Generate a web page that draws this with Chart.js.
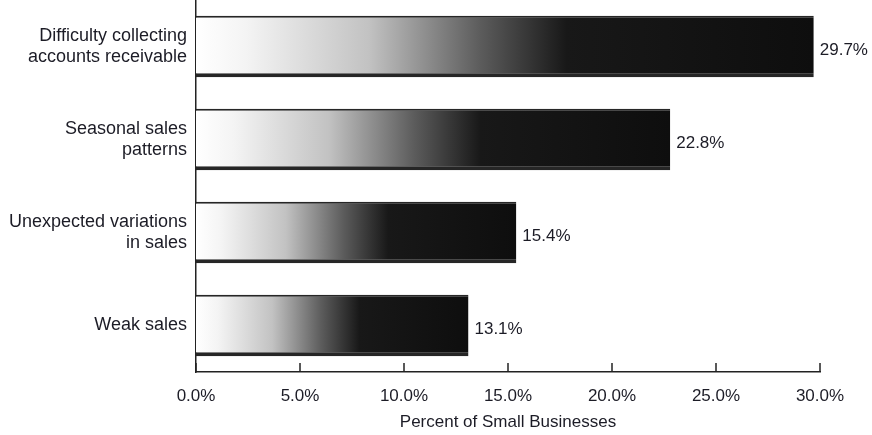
<!DOCTYPE html>
<html>
<head>
<meta charset="utf-8">
<script src="https://cdn.jsdelivr.net/npm/chart.js@4.4.1/dist/chart.umd.min.js"></script>
<style>
  html, body { margin: 0; padding: 0; background: #fff; }
  #wrap { width: 872px; height: 435px; }
</style>
</head>
<body>
<div id="wrap"><canvas id="cashChart" width="872" height="435"></canvas></div>
<script>
// Causes of cash flow problems, share of small businesses
const categories = [
  ["Difficulty collecting", "accounts receivable"],
  ["Seasonal sales", "patterns"],
  ["Unexpected variations", "in sales"],
  ["Weak sales"]
];
const percents = [29.7, 22.8, 15.4, 13.1];
const tickValues = [0, 5, 10, 15, 20, 25, 30];

const inkColor = "#1c1c26";
const fontFamily = "'Liberation Sans', Arial, sans-serif";

// white-to-black fade along each bar, based on the bar's own length
function barFade(context) {
  const chart = context.chart;
  const area = chart.chartArea;
  if (!area) return "#222";
  const xScale = chart.scales.x;
  const x0 = xScale.getPixelForValue(0);
  const x1 = xScale.getPixelForValue(percents[context.dataIndex]);
  const g = chart.ctx.createLinearGradient(x0, 0, x1, 0);
  g.addColorStop(0, "#ffffff");
  g.addColorStop(0.08, "#f4f4f4");
  g.addColorStop(0.28, "#c2c2c2");
  g.addColorStop(0.46, "#5c5c5c");
  g.addColorStop(0.6, "#181818");
  g.addColorStop(1, "#0e0e0e");
  return g;
}

// tick marks pointing up into the plot, plus value labels at bar ends
const extras = {
  id: "extras",
  afterDraw(chart) {
    const ctx = chart.ctx;
    const xScale = chart.scales.x;
    const bottom = chart.chartArea.bottom;
    ctx.save();
    ctx.strokeStyle = "#222";
    ctx.lineWidth = 1.5;
    xScale.ticks.forEach((t, i) => {
      const x = xScale.getPixelForTick(i);
      ctx.beginPath();
      ctx.moveTo(x, bottom);
      ctx.lineTo(x, bottom - 9);
      ctx.stroke();
    });
    const meta = chart.getDatasetMeta(0);
    ctx.fillStyle = inkColor;
    ctx.font = "17px " + fontFamily;
    ctx.textBaseline = "middle";
    ctx.textAlign = "left";
    meta.data.forEach((bar, i) => {
      ctx.fillText(percents[i].toFixed(1) + "%", bar.x + 6, bar.y + 4);
    });
    ctx.restore();
  }
};

new Chart("cashChart", {
  type: "bar",
  data: {
    labels: categories,
    datasets: [{
      data: percents,
      backgroundColor: barFade,
      borderColor: "#262626",
      borderWidth: { top: 2, right: 0, bottom: 4, left: 0 },
      borderSkipped: false,
      barPercentage: 0.66,
      categoryPercentage: 1
    }]
  },
  options: {
    responsive: false,
    animation: false,
    indexAxis: "y",
    layout: { padding: { top: 0, right: 52, bottom: 2, left: 0 } },
    plugins: {
      legend: { display: false },
      tooltip: { enabled: false }
    },
    scales: {
      x: {
        min: 0,
        max: 30,
        afterBuildTicks: (scale) => {
          scale.ticks = tickValues.map(v => ({ value: v }));
        },
        afterFit: (scale) => { scale.height = 61; },
        grid: { display: false, drawTicks: false },
        border: { display: true, color: "#222", width: 1.5 },
        ticks: {
          padding: 14,
          color: inkColor,
          font: { family: fontFamily, size: 17 },
          callback: (v) => Number(v).toFixed(1) + "%"
        },
        title: {
          display: true,
          text: "Percent of Small Businesses",
          color: inkColor,
          font: { family: fontFamily, size: 17 },
          padding: { top: 0, bottom: 0 }
        }
      },
      y: {
        afterFit: (scale) => {
          scale.width = 196;
          scale.paddingTop = 0;
          scale.paddingBottom = 0;
        },
        grid: { display: false, drawTicks: false },
        border: { display: true, color: "#222", width: 1.5 },
        ticks: {
          padding: 9,
          color: inkColor,
          font: { family: fontFamily, size: 18, lineHeight: 1.2 }
        }
      }
    }
  },
  plugins: [extras]
});
</script>
</body>
</html>
